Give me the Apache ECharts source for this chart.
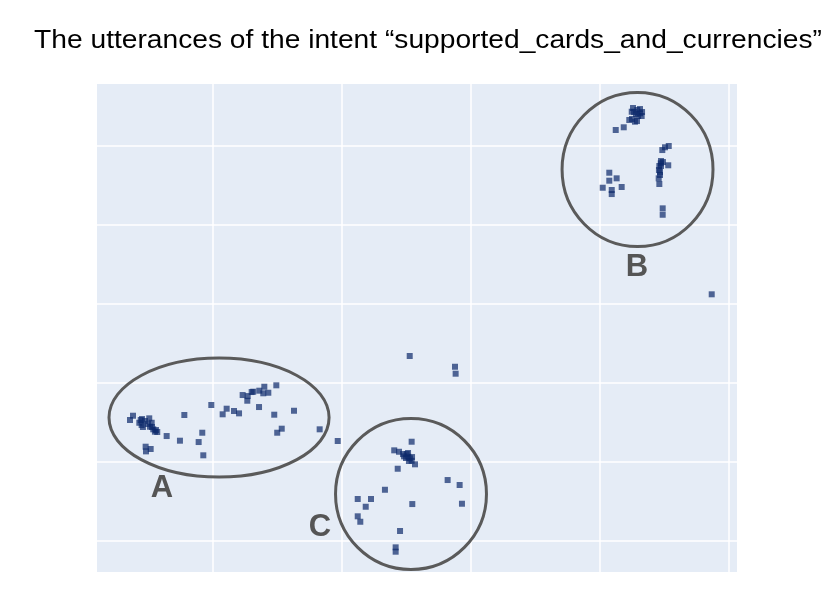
<!DOCTYPE html>
<html>
<head>
<meta charset="utf-8">
<script src="https://cdn.jsdelivr.net/npm/echarts@6/dist/echarts.min.js"></script>
<style>html,body{margin:0;padding:0;background:#fff;}#c{width:830px;height:602px;}</style>
</head>
<body>
<div id="c"></div>
<script>
// ---- data (embedding coordinates) ----
const titleText = 'The utterances of the intent \u201csupported_cards_and_currencies\u201d';

const clusterB = [
  [22.46,34.34],[22.89,34.56],[23.10,34.14],[23.23,33.80],[22.71,33.08],[22.27,33.29],[22.64,34.30],[22.95,33.80],
  [22.56,34.81],[22.79,34.05],[23.26,34.30],[23.10,34.68],[22.48,33.42],[22.87,33.16],
  [21.22,32.03],[21.84,32.37],
  [25.33,30.00],[25.04,29.84],[24.83,29.49],
  [24.71,27.81],[24.60,27.47],[25.29,27.56],[24.73,28.10],[24.73,27.47],[24.88,27.97],[24.57,26.96],
  [24.65,26.71],[24.65,26.33],[24.55,25.91],[24.60,25.19],
  [20.72,26.62],[21.29,25.91],[20.72,25.61],[20.21,24.72],[20.91,24.43],[20.91,23.92],[21.68,24.81],
  [24.86,22.11],[24.86,21.30]
];
const outliers = [
  [28.66,11.23],[5.25,3.42],[8.76,2.06],[8.81,1.18],[-0.33,-7.34],[-1.73,-5.86]
];
const clusterA = [
  [-16.20,-4.14],[-16.43,-4.68],[-15.60,-4.68],[-15.53,-5.32],[-14.94,-4.47],[-14.75,-5.03],[-14.88,-5.53],
  [-14.63,-5.86],[-14.32,-6.20],[-15.71,-5.03],[-14.50,-6.16],[-15.27,-4.81],[-13.59,-6.71],
  [-15.50,-4.56],[-15.04,-5.19],[-14.73,-5.57],[-14.42,-5.95],[-15.43,-5.57],
  [-15.22,-8.06],[-14.83,-8.35],[-15.19,-8.65],
  [-12.22,-4.05],[-12.56,-7.30],[-10.83,-6.29],[-11.11,-7.47],[-10.75,-9.15],
  [-10.13,-2.78],[-9.25,-3.96],[-8.94,-3.25],[-8.37,-3.54],[-7.98,-3.84],
  [-7.70,-1.52],[-7.31,-1.65],[-7.34,-2.24],[-7.00,-1.14],[-6.88,-1.10],[-6.41,-0.97],
  [-6.02,-0.47],[-6.10,-1.30],[-5.71,-1.23],[-5.09,-0.29],
  [-6.43,-3.04],[-5.25,-4.01],[-3.72,-3.51],[-4.67,-5.78],[-5.02,-6.29]
];
const clusterC = [
  [5.40,-7.43],[4.05,-8.52],[4.42,-8.70],[5.14,-9.33],[5.02,-8.99],[5.27,-9.53],[4.81,-9.28],
  [5.40,-9.84],[5.66,-10.29],[5.12,-8.86],[4.96,-9.49],[5.19,-9.87],[4.73,-8.99],[5.43,-9.37],
  [4.32,-10.85],
  [8.19,-12.28],[9.12,-12.91],[3.33,-13.51],[1.22,-14.68],[2.25,-14.68],[1.84,-15.66],
  [5.45,-15.32],[9.30,-15.28],[1.22,-16.87],[1.42,-17.56],[4.50,-18.73],[4.16,-20.80],[4.16,-21.35]
];

const xGrid = [-10, 0, 10, 20, 30];
const yGrid = [-20, -10, 0, 10, 20, 30];
const xRange = [-18.99, 30.62];
const yRange = [-23.92, 37.85];

// annotation ellipses: [cx, cy, rx, ry] in data units
const ellipses = [[-9.53,-4.37,8.53,7.53],[22.91,27.03,5.85,9.75],[5.35,-14.05,5.85,9.56]];
const groupLabels = ['A','B','C'];
const groupLabelPos = [[-13.95,-13.29],[22.87,14.62],[-1.71,-18.23]];

const points = clusterA.concat(clusterB, clusterC, outliers);

const chart = echarts.init(document.getElementById('c'), null, {renderer:'canvas'});
const option = {
  animation: false,
  backgroundColor: '#ffffff',
  grid: {left: 97, top: 84, width: 640, height: 488, show: true, backgroundColor: '#E5ECF6', borderWidth: 0},
  xAxis: {type:'value', min: xRange[0], max: xRange[1], axisLine:{show:false}, axisTick:{show:false}, axisLabel:{show:false}, splitLine:{show:false}},
  yAxis: {type:'value', min: yRange[0], max: yRange[1], axisLine:{show:false}, axisTick:{show:false}, axisLabel:{show:false}, splitLine:{show:false}},
  series: [
    {
      type:'scatter', z: 1, data: [], silent: true,
      markLine: {
        silent: true, symbol: ['none','none'], z: 1, animation: false,
        label: {show:false},
        lineStyle: {color:'#ffffff', width: 1.5, type:'solid'},
        emphasis: {disabled: true},
        data: xGrid.map(v => ({xAxis: v})).concat(yGrid.map(v => ({yAxis: v})))
      }
    },
    {
      type:'scatter', z: 3, data: points, symbol:'rect', symbolSize: 6,
      itemStyle: {color:'#0d2a6b', opacity: 0.7}
    }
  ]
};
chart.setOption(option);

const toPx = (p) => chart.convertToPixel({gridIndex:0}, p);
const graphics = [];
ellipses.forEach(e => {
  const c = toPx([e[0], e[1]]);
  const ex = toPx([e[0] + e[2], e[1]]);
  const ey = toPx([e[0], e[1] + e[3]]);
  graphics.push({type:'ellipse', z: 10, silent: true,
    shape:{cx:c[0], cy:c[1], rx:Math.abs(ex[0]-c[0]), ry:Math.abs(c[1]-ey[1])},
    style:{fill:'none', stroke:'#5a5a5a', lineWidth:3}});
});
groupLabels.forEach((t,i) => {
  const p = toPx(groupLabelPos[i]);
  graphics.push({type:'text', z: 10, silent: true, x: p[0], y: p[1],
    style:{text:t, fill:'#555555', font:'bold 31px "Liberation Sans", Arial, sans-serif', align:'center', verticalAlign:'middle'}});
});
graphics.push({type:'text', z: 10, silent: true, x: 428, y: 41, scaleX: 1.127,
  style:{text: titleText, fill:'#000000', font:'25px "Liberation Sans", Arial, sans-serif', align:'center', verticalAlign:'middle'}});
chart.setOption({graphic: graphics});
</script>
</body>
</html>
